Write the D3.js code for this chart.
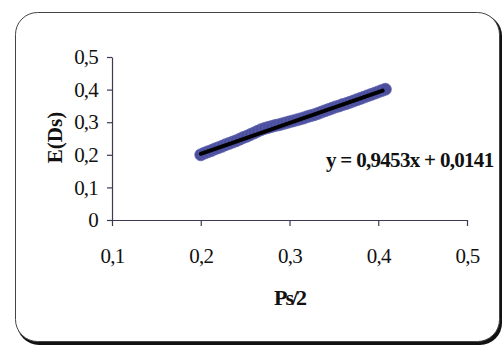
<!DOCTYPE html>
<html>
<head>
<meta charset="utf-8">
<script src="https://cdn.jsdelivr.net/npm/d3@7"></script>
<style>
  body { margin: 0; background: #fff; }
  svg { display: block; }
</style>
</head>
<body>
<div id="chart-container"></div>
<script>
// measured points (Ps/2, E(Ds))
const psHalf = [0.200,0.204,0.208,0.212,0.216,0.220,0.224,0.228,0.232,0.236,
  0.240,0.244,0.248,0.252,0.256,0.260,0.264,0.268,0.272,0.276,
  0.280,0.284,0.288,0.292,0.296,0.300,0.304,0.308,0.312,0.316,
  0.320,0.324,0.328,0.332,0.336,0.340,0.344,0.348,0.352,0.356,
  0.360,0.364,0.368,0.372,0.376,0.380,0.384,0.388,0.392,0.396,
  0.400,0.404,0.408];
const eDs = [0.200,0.205,0.209,0.213,0.218,0.222,0.226,0.231,0.235,0.239,
  0.243,0.248,0.253,0.257,0.262,0.267,0.272,0.277,0.281,0.284,
  0.287,0.290,0.292,0.295,0.298,0.301,0.304,0.307,0.310,0.313,
  0.317,0.320,0.323,0.327,0.331,0.335,0.339,0.343,0.347,0.350,
  0.354,0.357,0.361,0.365,0.369,0.373,0.377,0.381,0.385,0.389,
  0.393,0.397,0.401];
const xTicks = [0.1, 0.2, 0.3, 0.4, 0.5];
const yTicks = [0, 0.1, 0.2, 0.3, 0.4, 0.5];
const slope = 0.9453, intercept = 0.0141;
const equation = "y = 0,9453x + 0,0141";

const W = 504, H = 349;
const margin = {top: 57, right: 37, bottom: 129, left: 112};
const width = W - margin.left - margin.right;
const height = H - margin.top - margin.bottom;

const svgRoot = d3.select("#chart-container")
    .append("svg")
    .attr("width", W)
    .attr("height", H);

// frame with shadow
svgRoot.append("rect")
    .attr("x", 17).attr("y", 14)
    .attr("width", 485).attr("height", 331)
    .attr("rx", 22)
    .attr("fill", "#111");
svgRoot.append("rect")
    .attr("x", 15.5).attr("y", 12.5)
    .attr("width", 484).attr("height", 329)
    .attr("rx", 22)
    .attr("fill", "#fff")
    .attr("stroke", "#444")
    .attr("stroke-width", 1);

const svg = svgRoot.append("g")
    .attr("transform", `translate(${margin.left},${margin.top})`);

const x = d3.scaleLinear().domain([0.1, 0.5]).range([0, width]);
const y = d3.scaleLinear().domain([0, 0.5]).range([height, 0]);

const fmt = d => d === 0 ? "0" : d3.format(".1f")(d).replace(".", ",");

const xAxis = svg.append("g")
    .attr("transform", `translate(0,${height})`)
    .call(d3.axisBottom(x).tickValues(xTicks).tickFormat(fmt).tickSize(6).tickSizeOuter(0).tickPadding(22));

const yAxis = svg.append("g")
    .call(d3.axisLeft(y).tickValues(yTicks).tickFormat(fmt).tickSize(5).tickSizeOuter(0).tickPadding(9));

[xAxis, yAxis].forEach(a => {
  a.select(".domain").attr("stroke", "#3a3a55").attr("stroke-width", 1.2);
  a.selectAll(".tick line").attr("stroke", "#3a3a55").attr("stroke-width", 1.2);
  a.selectAll(".tick text")
    .attr("font-family", "Liberation Serif, serif")
    .attr("font-size", 21)
    .attr("letter-spacing", -0.8)
    .attr("fill", "#111");
});

const points = psHalf.map((v, i) => ({x: v, y: eDs[i]}));

svg.append("g")
    .selectAll("circle")
    .data(points)
    .join("circle")
    .attr("cx", d => x(d.x))
    .attr("cy", d => y(d.y))
    .attr("r", 6)
    .attr("fill", "#4a4e9c")
    .attr("stroke", "#5d62b0")
    .attr("stroke-width", 0.8);

// trend line
const xFit = d3.extent(psHalf);
svg.append("line")
    .attr("x1", x(xFit[0])).attr("y1", y(slope * xFit[0] + intercept))
    .attr("x2", x(xFit[1] - 0.003)).attr("y2", y(slope * (xFit[1] - 0.003) + intercept))
    .attr("stroke", "#000")
    .attr("stroke-width", 4)
    .attr("stroke-linecap", "round");

svg.append("text")
    .attr("x", 214)
    .attr("y", 110)
    .attr("font-family", "Liberation Serif, serif")
    .attr("font-weight", "bold")
    .attr("font-size", 21)
    .attr("letter-spacing", -0.7)
    .attr("fill", "#111")
    .text(equation);

svg.append("text")
    .attr("x", width / 2)
    .attr("y", height + 85)
    .attr("text-anchor", "middle")
    .attr("font-family", "Liberation Serif, serif")
    .attr("font-weight", "bold")
    .attr("font-size", 22)
    .attr("letter-spacing", -2)
    .attr("fill", "#111")
    .text("Ps/2");

svg.append("text")
    .attr("transform", `translate(${-50},${height / 2 - 1}) rotate(-90)`)
    .attr("text-anchor", "middle")
    .attr("font-family", "Liberation Serif, serif")
    .attr("font-weight", "bold")
    .attr("font-size", 21)
    .attr("fill", "#111")
    .text("E(Ds)");
</script>
</body>
</html>
